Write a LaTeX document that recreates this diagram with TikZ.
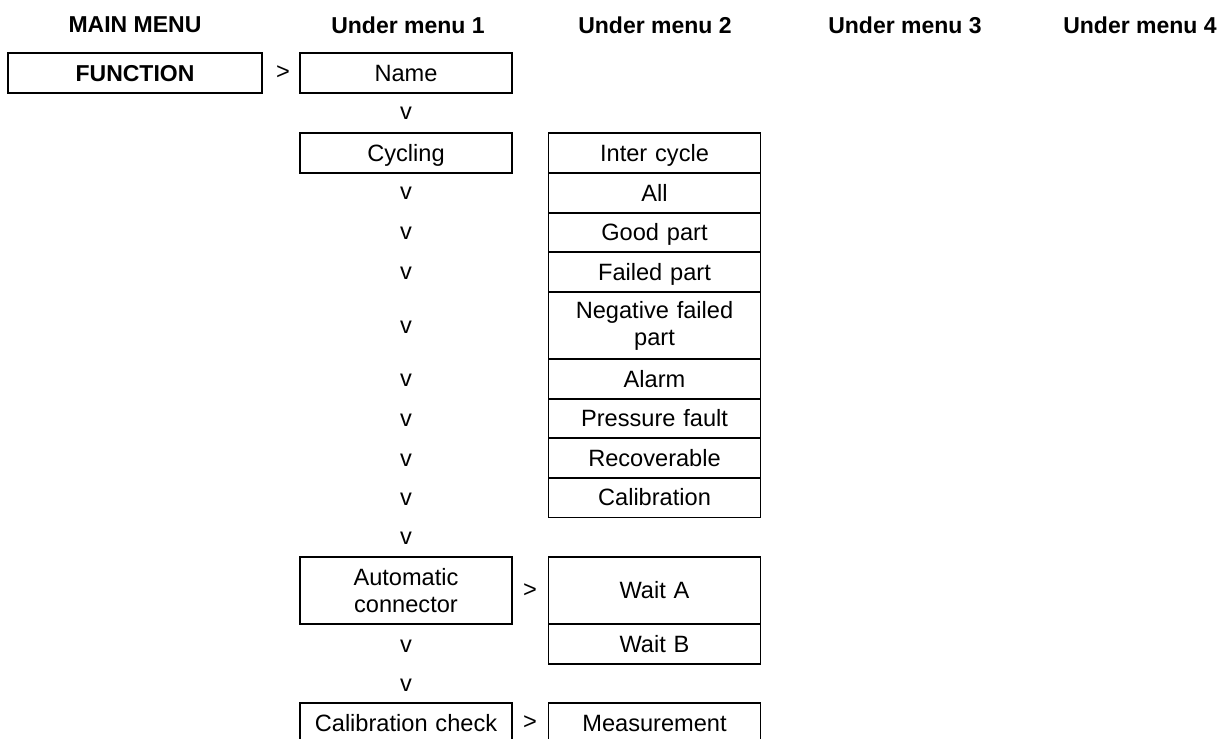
\documentclass[tikz,border=0pt]{standalone}
\usepackage{fontspec}
\setmainfont{Liberation Sans}

\tikzset{
    every node/.style={font=\fontsize{11.8}{13.5}\selectfont, inner sep=0pt},
    head/.style={font=\fontsize{11.5}{13.5}\selectfont\bfseries},
    menubox/.style={draw, line width=0.8pt, minimum height=20pt, text width=#1,
        text height=8.4pt, text depth=0pt, align=center},
    menubox/.default=106pt,
    tallbox/.style={menubox, minimum height=33.5pt, text height=, text depth=}
}

\begin{document}
\begin{tikzpicture}[x=0.5pt, y=-0.5pt]
    \useasboundingbox (0,0) rectangle (1229,738);
    \clip (0,0) rectangle (1229,738);

    % column heads
    \node[head] (mainhead) at (135,25) {MAIN MENU};
    \node[head] (sub1head) at (408,25) {Under menu 1};
    \node[head] (sub2head) at (655,25) {Under menu 2};
    \node[head] (sub3head) at (905,25) {Under menu 3};
    \node[head] (sub4head) at (1140,25) {Under menu 4};

    % main menu and first under menu
    \node[menubox=127pt, head] (function) at (135,73) {FUNCTION};
    \node (gt1) at (283,73) {>};
    \node[menubox] (name) at (406,73) {Name};
    \node (v1) at (406,113) {v};
    \node[menubox] (cycling) at (406,153) {Cycling};
    \node (v2) at (406,193) {v};
    \node (v3) at (406,233) {v};
    \node (v4) at (406,273) {v};
    \node (v5) at (406,327) {v};
    \node (v6) at (406,380) {v};
    \node (v7) at (406,420) {v};
    \node (v8) at (406,460) {v};
    \node (v9) at (406,499) {v};
    \node (v10) at (406,538) {v};
    \node[tallbox] (autoconn) at (406,590.5) {Automatic\\connector};
    \node (v11) at (406,646) {v};
    \node (v12) at (406,685) {v};
    \node[menubox] (calcheck) at (406,723) {Calibration check};

    % second under menu
    \node[menubox] (intercycle) at (654.5,153) {Inter cycle};
    \node[menubox] (all) at (654.5,193) {All};
    \node[menubox] (goodpart) at (654.5,232.5) {Good part};
    \node[menubox] (failedpart) at (654.5,272) {Failed part};
    \node[tallbox] (negfailed) at (654.5,325.5) {Negative failed\\part};
    \node[menubox] (alarm) at (654.5,379) {Alarm};
    \node[menubox] (pressure) at (654.5,418.5) {Pressure fault};
    \node[menubox] (recover) at (654.5,458) {Recoverable};
    \node[menubox] (calib) at (654.5,497.5) {Calibration};

    \node (gt2) at (530,591) {>};
    \node[menubox, minimum height=33.5pt] (waita) at (654.5,590.5) {Wait A};
    \node[menubox] (waitb) at (654.5,644) {Wait B};

    \node (gt3) at (530,723) {>};
    \node[menubox] (measure) at (654.5,723) {Measurement};
\end{tikzpicture}
\end{document}
